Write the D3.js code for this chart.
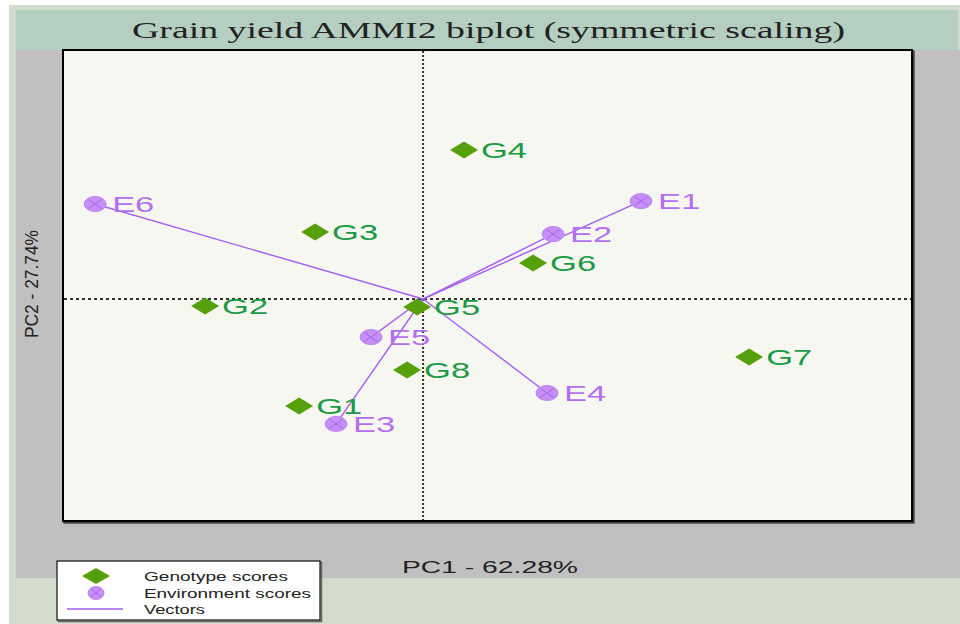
<!DOCTYPE html>
<html>
<head>
<meta charset="utf-8">
<script src="https://cdn.jsdelivr.net/npm/d3@7"></script>
<style>
  html, body { margin: 0; padding: 0; background: #ffffff; }
  svg { display: block; }
</style>
</head>
<body>
<svg id="chart" width="960" height="624"></svg>
<script>
// ---- data ----
const genotypes = ["G1", "G2", "G3", "G4", "G5", "G6", "G7", "G8"];
const genoPC1 = [-0.729, -1.282, -0.635, 0.241, -0.035, 0.647, 1.918, -0.094];
const genoPC2 = [-0.629, -0.041, 0.394, 0.876, -0.047, 0.212, -0.341, -0.418];

const environments = ["E1", "E2", "E3", "E4", "E5", "E6"];
const envPC1 = [1.282, 0.765, -0.512, 0.729, -0.306, -1.929];
const envPC2 = [0.576, 0.382, -0.735, -0.553, -0.224, 0.559];

const titleText = "Grain yield AMMI2 biplot (symmetric scaling)";
const xLabel = "PC1 - 62.28%";
const yLabel = "PC2 - 27.74%";
const legendLabels = ["Genotype scores", "Environment scores", "Vectors"];

// ---- layout ----
const svg = d3.select("#chart");
const W = 960, H = 624;
const plot = { left: 63, top: 50, right: 912, bottom: 521 };

const x = d3.scaleLinear().domain([-2.118, 2.876]).range([plot.left, plot.right]);
const y = d3.scaleLinear().domain([-1.306, 1.465]).range([plot.bottom, plot.top]);

const C = {
  sage: "#d3dccb", band: "#b4cfc0", grey: "#c0c0c0", plotBg: "#f6f7f0",
  diamond: "#56a00c", gText: "#1a9a42",
  envFill: "#c68ef7", envCross: "#a866ea", eText: "#b46ef2", vector: "#a45ef0"
};

// backgrounds
svg.append("rect").attr("x", 0).attr("y", 0).attr("width", W).attr("height", H).attr("fill", "#ffffff");
svg.append("rect").attr("x", 9).attr("y", 5).attr("width", W - 9).attr("height", H - 5).attr("fill", C.sage);
svg.append("rect").attr("x", 16).attr("y", 10).attr("width", W - 18).attr("height", 40).attr("fill", C.band);
svg.append("rect").attr("x", 16).attr("y", 50).attr("width", W - 16).attr("height", 528).attr("fill", C.grey);

// title
svg.append("text")
  .attr("x", 488.5).attr("y", 38)
  .attr("text-anchor", "middle")
  .attr("font-family", "'Liberation Serif', 'DejaVu Serif', serif")
  .attr("font-size", 24)
  .attr("fill", "#222")
  .attr("textLength", 713).attr("lengthAdjust", "spacingAndGlyphs")
  .text(titleText);

// plot panel with shadow
svg.append("rect")
  .attr("x", plot.left + 1.5).attr("y", plot.top + 1.5)
  .attr("width", plot.right - plot.left).attr("height", plot.bottom - plot.top)
  .attr("fill", "none").attr("stroke", "#444").attr("stroke-width", 2.5);
svg.append("rect")
  .attr("x", plot.left).attr("y", plot.top)
  .attr("width", plot.right - plot.left).attr("height", plot.bottom - plot.top)
  .attr("fill", C.plotBg).attr("stroke", "#000").attr("stroke-width", 2);

const g = svg.append("g");

// reference lines through origin
g.append("line")
  .attr("x1", plot.left + 1).attr("x2", plot.right - 1)
  .attr("y1", y(0)).attr("y2", y(0))
  .attr("stroke", "#333").attr("stroke-width", 2).attr("stroke-dasharray", "3,3");
g.append("line")
  .attr("x1", x(0)).attr("x2", x(0))
  .attr("y1", plot.top + 1).attr("y2", plot.bottom - 1)
  .attr("stroke", "#333").attr("stroke-width", 2).attr("stroke-dasharray", "2,2");

// vectors
const envData = environments.map((n, i) => ({ name: n, pc1: envPC1[i], pc2: envPC2[i] }));
const genoData = genotypes.map((n, i) => ({ name: n, pc1: genoPC1[i], pc2: genoPC2[i] }));

g.selectAll("line.vec").data(envData).join("line")
  .attr("class", "vec")
  .attr("x1", x(0)).attr("y1", y(0))
  .attr("x2", d => x(d.pc1)).attr("y2", d => y(d.pc2))
  .attr("stroke", C.vector).attr("stroke-width", 1.4);

// genotype diamonds
const dw = 14, dh = 8.5;
function diamondPath(cx, cy, hw, hh) {
  return `M${cx - hw},${cy}L${cx},${cy - hh}L${cx + hw},${cy}L${cx},${cy + hh}Z`;
}
g.selectAll("path.geno").data(genoData).join("path")
  .attr("class", "geno")
  .attr("d", d => diamondPath(x(d.pc1), y(d.pc2), dw, dh))
  .attr("fill", C.diamond);

// environment markers
function envMarker(sel, cx, cy, rx, ry) {
  sel.append("ellipse").attr("cx", cx).attr("cy", cy).attr("rx", rx).attr("ry", ry)
    .attr("fill", C.envFill).attr("stroke", "#bb86f4").attr("stroke-width", 1);
  const kx = rx * 0.6, ky = ry * 0.6;
  sel.append("path")
    .attr("d", `M${cx - kx},${cy - ky}L${cx + kx},${cy + ky}M${cx - kx},${cy + ky}L${cx + kx},${cy - ky}`)
    .attr("stroke", C.envCross).attr("stroke-width", 1).attr("fill", "none");
}
envData.forEach(d => envMarker(g, x(d.pc1), y(d.pc2), 11, 7.5));

// labels (horizontally stretched like the source)
function stretchedText(parent, tx, ty, txt, size, color, sx) {
  return parent.append("text")
    .attr("transform", `translate(${tx},${ty}) scale(${sx},1)`)
    .attr("font-family", "'Liberation Sans', Arial, sans-serif")
    .attr("font-size", size)
    .attr("fill", color)
    .text(txt);
}
genoData.forEach(d => stretchedText(g, x(d.pc1) + 17, y(d.pc2) + 8, d.name, 23, C.gText, 1.5));
envData.forEach(d => stretchedText(g, x(d.pc1) + 17, y(d.pc2) + 8, d.name, 23, C.eText, 1.5));

// axis titles
svg.append("text")
  .attr("x", 490).attr("y", 573)
  .attr("text-anchor", "middle")
  .attr("font-family", "'Liberation Sans', Arial, sans-serif")
  .attr("font-size", 17).attr("fill", "#222")
  .attr("textLength", 176).attr("lengthAdjust", "spacingAndGlyphs")
  .text(xLabel);

svg.append("text")
  .attr("transform", "translate(38,284) scale(1.2,1) rotate(-90)")
  .attr("text-anchor", "middle")
  .attr("font-family", "'Liberation Sans', Arial, sans-serif")
  .attr("font-size", 16).attr("fill", "#222")
  .attr("textLength", 108).attr("lengthAdjust", "spacingAndGlyphs")
  .text(yLabel);

// legend
const lg = svg.append("g");
lg.append("rect").attr("x", 58.5).attr("y", 562.5).attr("width", 263).attr("height", 59)
  .attr("fill", "none").attr("stroke", "#666").attr("stroke-width", 1.5);
lg.append("rect").attr("x", 57).attr("y", 561).attr("width", 263).attr("height", 59)
  .attr("fill", "#ffffff").attr("stroke", "#111").attr("stroke-width", 1.2);
const legY = [576, 593, 609];
lg.append("path").attr("d", diamondPath(96, legY[0], 14, 8)).attr("fill", C.diamond);
envMarker(lg, 96, legY[1], 8, 6.5);
lg.append("line").attr("x1", 67).attr("x2", 123).attr("y1", legY[2]).attr("y2", legY[2])
  .attr("stroke", C.vector).attr("stroke-width", 1.4);
const legLens = [144, 167, 61];
legendLabels.forEach((t, i) => {
  lg.append("text")
    .attr("x", 144).attr("y", legY[i] + 4.5)
    .attr("font-family", "'Liberation Sans', Arial, sans-serif")
    .attr("font-size", 12.6).attr("fill", "#222")
    .attr("textLength", legLens[i]).attr("lengthAdjust", "spacingAndGlyphs")
    .text(t);
});
</script>
</body>
</html>
